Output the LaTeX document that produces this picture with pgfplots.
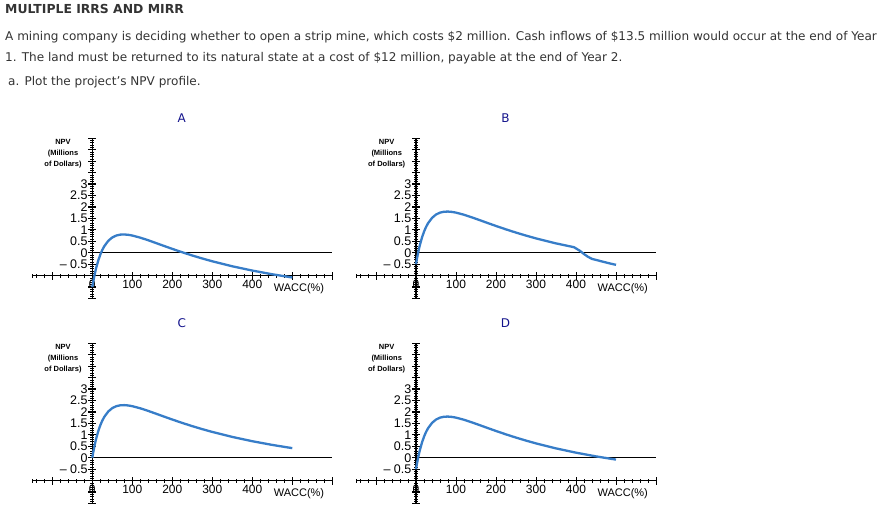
\documentclass[border=0pt]{standalone}
\usepackage{fontspec}
\setmainfont{DejaVu Sans}
\newfontfamily\arialf{Liberation Sans}
\usepackage{pgfplots}
\usepackage{pgfplotstable}
\pgfplotsset{compat=1.18}

\definecolor{txtgray}{RGB}{51,51,51}
\definecolor{navy}{RGB}{20,20,140}
\definecolor{npvblue}{RGB}{55,125,200}

% NPV profiles, WACC in %, NPV in millions of dollars
\pgfplotstableread{
r npv
0 -1.500
2 -1.299
4 -1.114
6 -0.944
8 -0.788
10 -0.645
15 -0.335
20 -0.083
25 0.120
30 0.284
40 0.520
50 0.667
60 0.750
70 0.789
80 0.796
90 0.781
100 0.750
120 0.657
140 0.542
160 0.417
180 0.291
200 0.167
225 0.018
250 -0.122
275 -0.253
300 -0.375
350 -0.593
400 -0.780
450 -0.942
500 -1.083
}\tabA

\pgfplotstableread{
r npv
0 -0.500
2 -0.299
4 -0.114
6 0.056
8 0.212
10 0.355
15 0.665
20 0.917
25 1.120
30 1.284
40 1.520
50 1.667
60 1.750
70 1.789
80 1.796
90 1.781
100 1.750
120 1.657
140 1.542
160 1.417
180 1.291
200 1.167
225 1.018
250 0.878
275 0.747
300 0.625
350 0.407
395 0.240
410 0.080
420 -0.060
430 -0.180
440 -0.270
460 -0.360
480 -0.450
500 -0.530
}\tabB

\pgfplotstableread{
r npv
0 0.000
2 0.201
4 0.386
6 0.556
8 0.712
10 0.855
15 1.165
20 1.417
25 1.620
30 1.784
40 2.020
50 2.167
60 2.250
70 2.289
80 2.296
90 2.281
100 2.250
120 2.157
140 2.042
160 1.917
180 1.791
200 1.667
225 1.518
250 1.378
275 1.247
300 1.125
350 0.907
400 0.720
450 0.558
500 0.417
}\tabC

\pgfplotstableread{
r npv
0 -0.500
2 -0.299
4 -0.114
6 0.056
8 0.212
10 0.355
15 0.665
20 0.917
25 1.120
30 1.284
40 1.520
50 1.667
60 1.750
70 1.789
80 1.796
90 1.781
100 1.750
120 1.657
140 1.542
160 1.417
180 1.291
200 1.167
225 1.018
250 0.878
275 0.747
300 0.625
350 0.407
400 0.220
450 0.058
500 -0.083
}\tabD

% one panel: #1,#2 origin in bp, #3 letter, #4 table
% 1 unit of WACC = 0.4bp, 1 unit of NPV = 22.9bp
\newcommand{\panel}[4]{%
\begin{scope}[shift={(#1bp,#2bp)}, x=1bp, y=1bp]
  % title letter
  \node[font=\fontsize{12bp}{14bp}\selectfont, text=navy] at (89.4,134.4) {#3};
  % y axis
  \draw[line width=1.2bp] (0,-45.8) -- (0,114.5);
  \foreach \i in {-20,...,50} \draw[line width=0.6bp] (-2,\i*2.29) -- (2,\i*2.29);
  \foreach \i in {-4,...,10} \draw[line width=1.2bp] (-4,\i*11.45) -- (4,\i*11.45);
  \foreach \p/\l in {-11.45/{\textendash\ 0.5}, 0/0, 11.45/0.5, 22.9/1, 34.35/1.5,
                     45.8/2, 57.25/2.5, 68.7/3}
    \node[anchor=east, inner sep=0pt, font=\arialf\fontsize{12.5bp}{12bp}\selectfont]
      at (-4.5,\p) {\l};
  \node[align=center, inner sep=0pt, font=\arialf\bfseries\fontsize{7.5bp}{11bp}\selectfont]
    at (-29.3,99.5) {NPV\\(Millions\\of Dollars)};
  % x axis at NPV = -1
  \draw[line width=0.8bp] (-60,-22.9) -- (240,-22.9);
  \foreach \t in {-150,-140,-120,...,600}
    \draw[line width=0.7bp] (0.4*\t,-24.9) -- (0.4*\t,-20.9);
  \foreach \t in {-100,0,...,600}
    \draw[line width=1bp] (0.4*\t,-26.9) -- (0.4*\t,-18.9);
  \foreach \t in {0,100,200,300,400}
    \node[font=\arialf\fontsize{12bp}{12bp}\selectfont, inner sep=0pt]
      at (0.4*\t,-31.5) {\t};
  \node[font=\arialf\fontsize{11bp}{11bp}\selectfont, inner sep=0pt]
    at (206.7,-36.3) {WACC(\%)};
  % zero line
  \draw[line width=0.9bp] (0,0) -- (240,0);
  \begin{axis}[at={(0,0)}, anchor=origin, x=0.4bp, y=22.9bp,
      xmin=-150, xmax=600, ymin=-2, ymax=5, hide axis, clip=false]
    \addplot[npvblue, line width=2.3bp, line join=round] table[x=r, y=npv] {#4};
  \end{axis}
\end{scope}}

\begin{document}
\begin{tikzpicture}[x=1bp, y=1bp]
  \useasboundingbox (0,0) rectangle (890,-518);
  \begin{scope}[every node/.style={anchor=base west, inner sep=0pt, text=txtgray,
      font=\fontsize{12.05bp}{14bp}\selectfont}]
    \node[font=\bfseries\fontsize{12.4bp}{14bp}\selectfont] at (5,-14) {MULTIPLE IRRS AND MIRR};
    \node at (5,-40.7) {A mining company is deciding whether to open a strip mine, which costs \$2 million. Cash inflows of \$13.5 million would occur at the end of Year};
    \node at (5,-62) {1. The land must be returned to its natural state at a cost of \$12 million, payable at the end of Year 2.};
    \node at (8,-86) {a. Plot the project's NPV profile.};
  \end{scope}
  \panel{92.3}{-252.7}{A}{\tabA}
  \panel{416}{-252.7}{B}{\tabB}
  \panel{92.3}{-457.7}{C}{\tabC}
  \panel{416}{-457.7}{D}{\tabD}
\end{tikzpicture}
\end{document}
